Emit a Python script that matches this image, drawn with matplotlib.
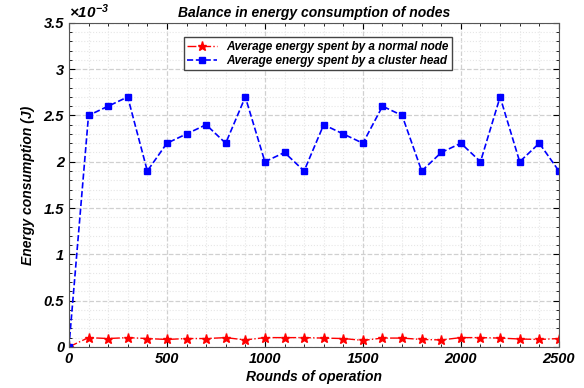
import numpy as np
import matplotlib
matplotlib.use("Agg")
import matplotlib.pyplot as plt
from matplotlib.ticker import MultipleLocator, FuncFormatter

plt.rcParams['font.family'] = ['Liberation Sans', 'DejaVu Sans']
plt.rcParams['font.weight'] = 'bold'
plt.rcParams['font.style'] = 'italic'
plt.rcParams['axes.labelweight'] = 'bold'
plt.rcParams['mathtext.default'] = 'regular'

# data (energy in units of 1e-3 J)
rounds = [0, 100, 200, 300, 400, 500, 600, 700, 800, 900, 1000, 1100, 1200,
          1300, 1400, 1500, 1600, 1700, 1800, 1900, 2000, 2100, 2200, 2300,
          2400, 2500]
normal_node = [0, 0.10, 0.09, 0.10, 0.09, 0.08, 0.09, 0.09, 0.10, 0.075,
               0.10, 0.10, 0.10, 0.095, 0.09, 0.07, 0.095, 0.095, 0.08,
               0.075, 0.10, 0.10, 0.095, 0.085, 0.08, 0.09]
cluster_head = [0, 2.5, 2.6, 2.7, 1.9, 2.2, 2.3, 2.4, 2.2, 2.7, 2.0, 2.1,
                1.9, 2.4, 2.3, 2.2, 2.6, 2.5, 1.9, 2.1, 2.2, 2.0, 2.7, 2.0,
                2.2, 1.9]

normal_node = np.array(normal_node) * 1e-3
cluster_head = np.array(cluster_head) * 1e-3

fig = plt.figure(figsize=(5.84, 3.88), dpi=100)
ax = fig.add_axes([0.118, 0.106, 0.839, 0.835])

ax.plot(rounds, normal_node, color='red', linestyle='-.', marker='*',
        markersize=6.5, linewidth=1, label='Average energy spent by a normal node')
ax.plot(rounds, cluster_head, color='blue', linestyle='--', marker='s',
        markersize=4.5, linewidth=1.2, label='Average energy spent by a cluster head')

ax.set_xlim(0, 2500)
ax.set_ylim(0, 3.5e-3)
ax.xaxis.set_major_locator(MultipleLocator(500))
ax.xaxis.set_minor_locator(MultipleLocator(100))
ax.yaxis.set_major_locator(MultipleLocator(0.5e-3))
ax.yaxis.set_minor_locator(MultipleLocator(0.1e-3))
ax.yaxis.set_major_formatter(FuncFormatter(lambda v, p: '%g' % round(v * 1e3, 2)))
ax.text(0.0, 1.005, r'$\times10^{-3}$', transform=ax.transAxes, fontsize=11,
        fontweight='bold', style='italic', ha='left', va='bottom')

ax.grid(which='major', color='#d0d0d0', linestyle='--', linewidth=0.9)
ax.grid(which='minor', color='#e6e6e6', linestyle=':', linewidth=0.8)
ax.tick_params(which='both', direction='in', top=True, right=True, labelsize=10.5)
ax.tick_params(which='major', length=4)
ax.tick_params(which='minor', length=2)
for s in ax.spines.values():
    s.set_color('#555555')

ax.set_title('Balance in energy consumption of nodes', fontsize=10,
             fontweight='bold', style='italic', pad=4)
ax.set_xlabel('Rounds of operation', fontsize=10, labelpad=3)
ax.set_ylabel('Energy consumption (J)', fontsize=10, labelpad=6)

leg = ax.legend(loc='upper center', bbox_to_anchor=(0.508, 0.955), fontsize=8.5,
                fancybox=False, framealpha=1, edgecolor='#444444',
                borderpad=0.3, handlelength=2.5, labelspacing=0.15,
                borderaxespad=0)

plt.savefig("out.png", dpi=100)
